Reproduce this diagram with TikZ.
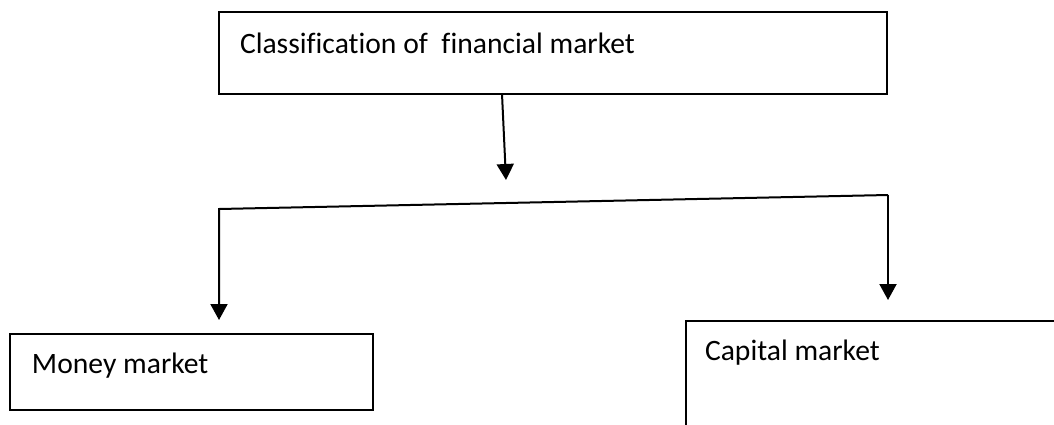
\documentclass[tikz,border=0pt]{standalone}
\usepackage{fontspec}
\setmainfont{Carlito}[Ligatures=NoCommon]
\usetikzlibrary{calc, arrows.meta, positioning}

\begin{document}
\begin{tikzpicture}[x=0.5pt, y=-0.5pt, >={Triangle[length=8pt,width=8.5pt]}, line width=1pt,
    box/.style={draw, rectangle, align=left, anchor=north west, inner ysep=0pt, outer sep=0pt,
                font=\fontsize{14.8}{18}\selectfont, execute at begin node={\spaceskip=3.4pt\relax}}]
    \useasboundingbox (0,0) rectangle (1054,424);
    \clip (0,0) rectangle (1054,424);

    \node[box, inner xsep=10.5pt, text width=313pt, text height=20.5pt, text depth=20.5pt] (classif) at (219,12) {Classification of \ financial market};
    \node[box, inner xsep=11pt, text width=159.5pt, text height=19.5pt, text depth=18.5pt] (money) at (10,334) {Money market};
    \node[box, inner xsep=9.5pt, text width=188pt, text height=19.5pt, text depth=60pt] (capital) at (686,321) {Capital market};

    \coordinate (hub) at (506,180);
    \coordinate (lcorner) at (219,209);
    \coordinate (rcorner) at (888,195);

    \draw[->] ($(classif.south west)+(283,0)$) -- (hub);
    \draw[->, shorten >=7pt] (rcorner) -- (lcorner) -- (lcorner |- money.north);
    \draw[->, shorten >=10.5pt] (rcorner) -- (rcorner |- capital.north);
\end{tikzpicture}
\end{document}
